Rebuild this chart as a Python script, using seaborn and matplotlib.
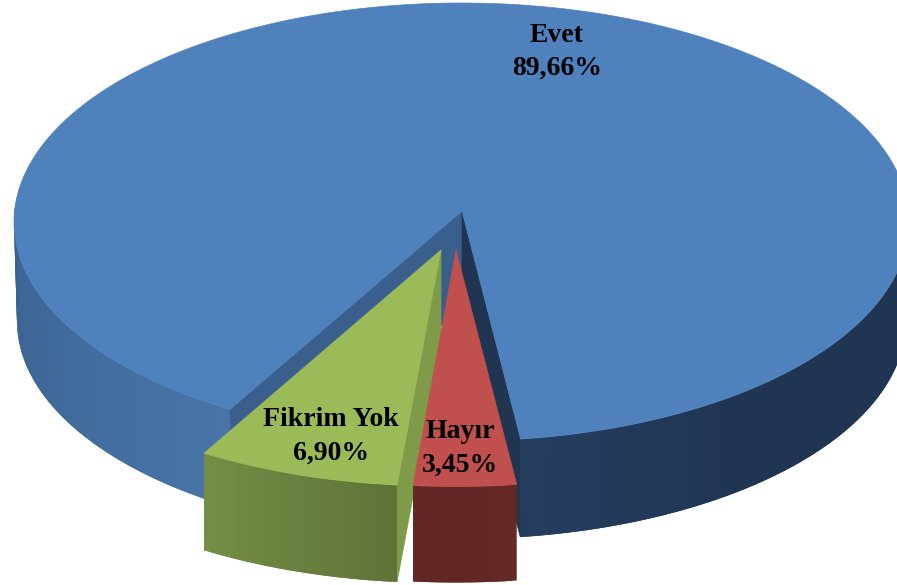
#!/usr/bin/env python3
"""Exploded 3D look pie chart, drawn as projected faces on pixel axes."""

import matplotlib
matplotlib.use("Agg")
import matplotlib.pyplot as plt
import numpy as np
import seaborn as sns

LABELS = ["Evet", "Hayır", "Fikrim Yok"]
VALUES = [89.66, 3.45, 6.90]
LABEL_POS = [(557, 35), (460, 432), (331, 420)]

# Angle where the first slice starts on the ellipse, clockwise on screen
START = 120.0
DEPTH = 97
# Near side of the disc looks stretched, as in a perspective view
STRETCH = 0.047

# Projected geometry per slice: ellipse centre, radii, slice tip
TOP = [(461.5, 222, 447.5, 219), (456.2, 259.5, 458, 227), (440, 259, 456, 227)]
BOTTOM = [(461.5, 321, 444.5, 218), (456.2, 355.5, 458, 227), (440, 356, 456, 227)]
TIP = [(462, 211), (456, 250), (441, 250)]

FACE = ["#4f81bd", "#c0504d", "#9bbb59"]
BLUE_LEFT = ["#4874a8", "#3a6190"]
BLUE_RIGHT = ["#253e60", "#1f3552", "#1f3552", "#1f3552"]
RED_SIDE = ["#642826", "#622725"]
GREEN_SIDE = ["#758e46", "#5f7337"]
BLUE_CUT_LEFT = "#3a5f8d"
BLUE_CUT_RIGHT = "#1f3552"
GREEN_CUT = "#7f9a48"

sns.set_theme(style="white")
plt.rcParams["font.family"] = ["Liberation Serif", "DejaVu Serif"]


def arc(t, geom):
    cx, cy, rx, ry = geom
    rad = np.radians(t)
    rad = rad + STRETCH / 2 * np.sin(2 * (rad - np.pi / 2))
    return cx + rx * np.cos(rad), cy + ry * np.sin(rad)


def draw_poly(ax, xs, ys, color, zorder, lw=0.5):
    ax.fill(xs, ys, facecolor=color, edgecolor=color if lw else "none",
            lw=lw, zorder=zorder)


def draw_side(ax, t0, t1, idx, shades, zorder):
    """Outer wall in overlapping strips, so the shade runs along the rim."""
    edges = np.linspace(t0, t1, len(shades) + 1)
    step = edges[1] - edges[0]
    for a, b, col in zip(edges[:-1], edges[1:], shades):
        end = min(b + step, t1) if t1 > t0 else max(b + step, t1)
        ts = np.linspace(a, end, 6)
        xa, ya = arc(ts, TOP[idx])
        xb, yb = arc(ts[::-1], BOTTOM[idx])
        draw_poly(ax, np.r_[xa, xb], np.r_[ya, yb], col, zorder, lw=0)


def draw_cut(ax, idx, t, color, zorder):
    """Flat wall from the slice tip out to the rim at angle t."""
    tx, ty = TIP[idx]
    ox, oy = arc(t, TOP[idx])
    bx, by = arc(t, BOTTOM[idx])
    draw_poly(ax, [tx, ox, bx, tx], [ty, oy, by, ty + DEPTH], color, zorder)


def draw_face(ax, idx, t0, t1, zorder):
    xs, ys = arc(np.linspace(t0, t1, 400), TOP[idx])
    draw_poly(ax, np.r_[TIP[idx][0], xs], np.r_[TIP[idx][1], ys], FACE[idx], zorder)


def main():
    spans = np.array(VALUES) / np.sum(VALUES) * 360
    stops = START + np.r_[0, np.cumsum(spans)]
    (b0, b1), (r0, r1), (g0, g1) = zip(stops[:-1], stops[1:])

    fig = plt.figure(figsize=(8.97, 5.85), dpi=100)
    ax = fig.add_axes([0, 0, 1, 1])

    # Blue slice
    draw_side(ax, b0, 185, 0, sns.blend_palette(BLUE_LEFT, 60), 1)
    draw_side(ax, 355, b1, 0, sns.blend_palette(BLUE_RIGHT[::-1], 80), 1)
    draw_cut(ax, 0, b0, BLUE_CUT_LEFT, 2)
    draw_cut(ax, 0, b1, BLUE_CUT_RIGHT, 2)
    draw_face(ax, 0, b0, b1, 3)

    # Green slice
    draw_cut(ax, 2, g0, GREEN_CUT, 4)
    draw_side(ax, g0, g1, 2, sns.blend_palette(GREEN_SIDE[::-1], 40), 5)
    draw_face(ax, 2, g0, g1, 6)

    # Red slice
    draw_side(ax, r0, r1, 1, sns.blend_palette(RED_SIDE, 20), 7)
    draw_face(ax, 1, r0, r1, 8)

    for label, value, (x, y) in zip(LABELS, VALUES, LABEL_POS):
        pct = f"{value:.2f}".replace(".", ",") + "%"
        ax.text(x, y, label, ha="center", va="center", fontsize=20,
                fontweight="bold", color="black", zorder=10)
        ax.text(x, y + 33, pct, ha="center", va="center", fontsize=20,
                fontweight="bold", color="black", zorder=10)

    ax.set_xlim(0, 897)
    ax.set_ylim(585, 0)
    ax.axis("off")
    fig.savefig("out.png", dpi=100, facecolor="white")
    plt.close(fig)


if __name__ == "__main__":
    main()
